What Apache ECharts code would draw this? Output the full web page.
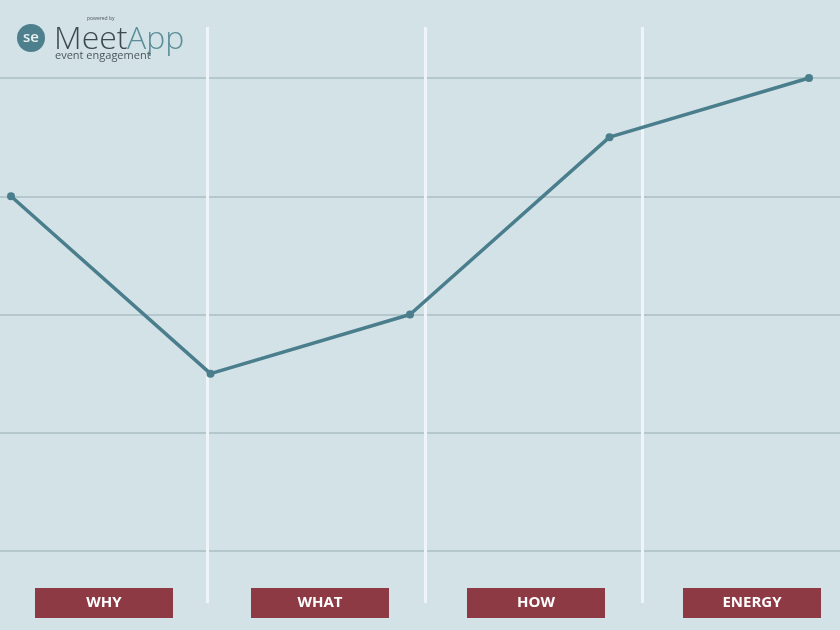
<!DOCTYPE html>
<html><head><meta charset="utf-8">
<script src="https://cdn.jsdelivr.net/npm/echarts@6/dist/echarts.min.js"></script>
<style>html,body{margin:0;padding:0;background:#d3e2e7}#c{width:840px;height:630px}</style>
</head><body><div id="c"></div>
<script>
const pointCats = ['p1','p2','p3','p4','p5'];
const values = [4, 2.5, 3, 4.5, 5];
const labelCats = ['WHY','WHAT','HOW','ENERGY'];

const chart = echarts.init(document.getElementById('c'));
chart.setOption({
  backgroundColor: '#d3e2e7',
  animation: false,
  grid: [
    {left: 11, right: 31, top: 78, bottom: 79, outerBoundsMode: 'none', containLabel: false},
    {left: -10, right: -20, top: 27, bottom: 27, outerBoundsMode: 'none', containLabel: false},
    {left: 0, right: 0, top: 78, bottom: 79, outerBoundsMode: 'none', containLabel: false},
    {left: -4, right: -20, top: 27, bottom: 27, outerBoundsMode: 'none', containLabel: false}
  ],
  xAxis: [
    {gridIndex: 0, type: 'category', data: pointCats, boundaryGap: false,
     axisLine: {show: false}, axisTick: {show: false}, axisLabel: {show: false}, splitLine: {show: false}},
    {gridIndex: 1, type: 'category', data: labelCats, boundaryGap: true,
     axisLine: {show: false}, axisTick: {show: false}, axisLabel: {show: false},
     splitLine: {show: true, interval: 0, lineStyle: {color: '#eef4f7', width: 3}}},
    {gridIndex: 2, type: 'category', data: pointCats, show: false},
    {gridIndex: 3, type: 'category', data: labelCats, boundaryGap: true,
     axisLine: {show: false}, axisTick: {show: false}, splitLine: {show: false},
     axisLabel: {margin: 0, verticalAlign: 'middle', align: 'center', interval: 0,
       color: '#ffffff', fontFamily: 'Open Sans', fontWeight: 'bold', fontSize: 15,
       backgroundColor: '#8e3a44', width: 138, height: 30, lineHeight: 30}}
  ],
  yAxis: [
    {gridIndex: 0, type: 'value', min: 1, max: 5, interval: 1, show: false},
    {gridIndex: 1, type: 'value', show: false},
    {gridIndex: 2, type: 'value', min: 1, max: 5, interval: 1,
     axisLine: {show: false}, axisTick: {show: false}, axisLabel: {show: false},
     splitLine: {show: true, lineStyle: {color: '#a9bec5', width: 1.5}}},
    {gridIndex: 3, type: 'value', show: false}
  ],
  graphic: [
    {type: 'circle', shape: {cx: 31, cy: 38, r: 14}, style: {fill: '#4d7f8c'}, z: 10},
    {type: 'text', x: 31, y: 38, style: {text: 'se', fill: '#e8f0f2', font: '600 15px "Open Sans"', align: 'center', verticalAlign: 'middle'}, z: 11},
    {type: 'text', x: 54, y: 40, style: {text: 'Meet', fill: '#3c4a50', font: '300 32px "Open Sans"', verticalAlign: 'middle'}, z: 10},
    {type: 'text', x: 127, y: 40, style: {text: 'App', fill: '#5c8e9a', font: '300 32px "Open Sans"', verticalAlign: 'middle'}, z: 10},
    {type: 'text', x: 55, y: 56, style: {text: 'event engagement', fill: '#4a575c', font: '11px "Open Sans"', verticalAlign: 'middle'}, z: 10},
    {type: 'text', x: 87, y: 19, style: {text: 'powered by', fill: '#4a575c', font: '5px "Open Sans"', verticalAlign: 'middle'}, z: 10}
  ],
  series: [
    {type: 'line', xAxisIndex: 0, yAxisIndex: 0, data: values, z: 5,
     symbol: 'circle', symbolSize: 8,
     lineStyle: {color: '#4b7e8d', width: 3.5},
     itemStyle: {color: '#4b7e8d'}}
  ]
});
</script></body></html>
